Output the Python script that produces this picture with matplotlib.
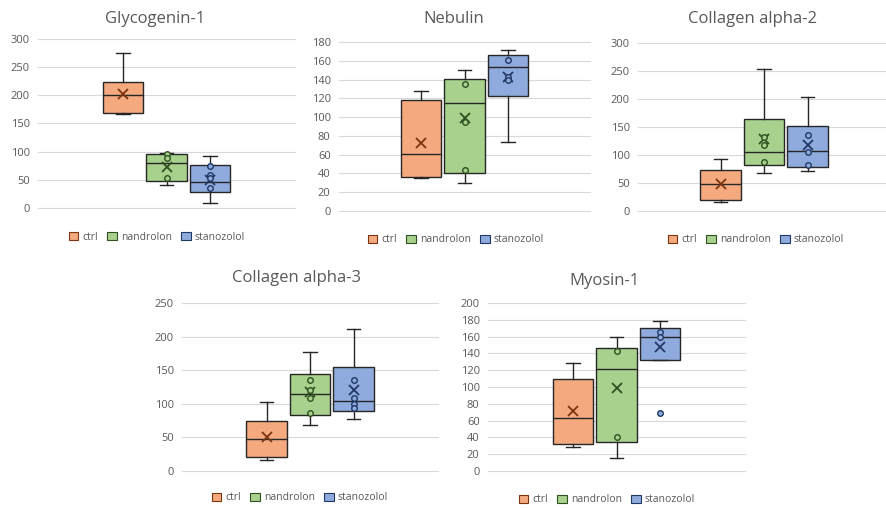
import matplotlib.pyplot as plt

plt.rcParams['font.family'] = ['Open Sans', 'DejaVu Sans']

groups = ["ctrl", "nandrolon", "stanozolol"]

# box statistics per group: whisker low, q1, median, q3, whisker high, mean
glyco_low = [167, 40, 9]
glyco_q1 = [168, 48, 28]
glyco_med = [200, 79, 47]
glyco_q3 = [223, 96, 77]
glyco_high = [275, 97, 92]
glyco_mean = [202, 73, 50]
glyco_pts = [[], [95, 88, 53], [74, 58, 54, 35]]

neb_low = [35, 30, 74]
neb_q1 = [36, 40, 123]
neb_med = [61, 115, 153]
neb_q3 = [118, 141, 166]
neb_high = [128, 150, 171]
neb_mean = [72, 99, 143]
neb_pts = [[], [135, 95, 44], [161, 143, 139]]

col2_low = [16, 68, 72]
col2_q1 = [20, 83, 79]
col2_med = [49, 105, 107]
col2_q3 = [73, 164, 151]
col2_high = [93, 253, 204]
col2_mean = [48, 128, 117]
col2_pts = [[], [133, 117, 88], [136, 106, 82]]

col3_low = [17, 68, 77]
col3_q1 = [21, 83, 90]
col3_med = [48, 114, 104]
col3_q3 = [74, 144, 155]
col3_high = [103, 177, 211]
col3_mean = [50, 117, 121]
col3_pts = [[], [135, 120, 108, 87], [136, 109, 100, 94]]

myo_low = [29, 15, 132]
myo_q1 = [32, 34, 132]
myo_med = [63, 122, 160]
myo_q3 = [110, 146, 170]
myo_high = [129, 160, 179]
myo_mean = [71, 99, 148]
myo_pts = [[], [143, 41], [166, 159, 69]]

fills = ["#F4A97F", "#A9D18E", "#8FAADC"]
darks = ["#7B3410", "#2F5020", "#1F3864"]
txt = "#595959"

W, H = 886, 508
fig = plt.figure(figsize=(W / 100, H / 100), dpi=100)

# (title, low, q1, med, q3, high, mean, pts, ymax, ystep, plot box px, title px, legend px)
panels = [
    ("Glycogenin-1", glyco_low, glyco_q1, glyco_med, glyco_q3, glyco_high, glyco_mean, glyco_pts,
     300, 50, (38, 39, 295, 208), (155, 19), (157, 237)),
    ("Nebulin", neb_low, neb_q1, neb_med, neb_q3, neb_high, neb_mean, neb_pts,
     180, 20, (339, 42, 590, 211), (454, 19), (456, 240)),
    ("Collagen alpha-2", col2_low, col2_q1, col2_med, col2_q3, col2_high, col2_mean, col2_pts,
     300, 50, (638, 43, 890, 211), (753, 19), (756, 240)),
    ("Collagen alpha-3", col3_low, col3_q1, col3_med, col3_q3, col3_high, col3_mean, col3_pts,
     250, 50, (182, 303, 438, 471), (297, 278), (300, 498)),
    ("Myosin-1", myo_low, myo_q1, myo_med, myo_q3, myo_high, myo_mean, myo_pts,
     200, 20, (488, 303, 745, 471), (604, 281), (607, 500)),
]

spacing = 43.5  # px between box centres

for (title, lo, q1, med, q3, hi, mean, pts, ymax, ystep, box, tpos, lpos) in panels:
    x0, y0, x1, y1 = box
    ax = fig.add_axes([x0 / W, 1 - y1 / H, (x1 - x0) / W, (y1 - y0) / H])
    stats = []
    for i in range(3):
        stats.append(dict(whislo=lo[i], q1=q1[i], med=med[i], q3=q3[i], whishi=hi[i],
                          mean=mean[i], fliers=[]))
    pos = [-1, 0, 1]
    bp = ax.bxp(stats, positions=pos, widths=0.92, capwidths=0.3, patch_artist=True,
                showmeans=True, showfliers=False,
                boxprops=dict(linewidth=1.0, edgecolor="#262626"),
                medianprops=dict(color="#262626", linewidth=1.0),
                whiskerprops=dict(color="#262626", linewidth=1.0),
                capprops=dict(color="#262626", linewidth=1.0),
                meanprops=dict(marker="x", markersize=7, markeredgewidth=1.3))
    for i in range(3):
        bp["boxes"][i].set_facecolor(fills[i])
        bp["means"][i].set_markeredgecolor(darks[i])
        if pts[i]:
            ax.plot([pos[i]] * len(pts[i]), pts[i], "o", ms=4, mfc=fills[i],
                    mec=darks[i], mew=1.0, zorder=5)
    half = (x1 - x0) / 2 / spacing
    ax.set_xlim(-half, half)
    ax.set_ylim(0, ymax)
    ax.set_yticks(range(0, ymax + 1, ystep))
    ax.set_xticks([])
    ax.tick_params(axis="y", length=0, labelsize=8, labelcolor=txt, pad=6)
    for s in ax.spines.values():
        s.set_visible(False)
    ax.grid(axis="y", color="#D9D9D9", linewidth=0.8, clip_on=False)
    ax.set_axisbelow(True)
    fig.text(tpos[0] / W, 1 - tpos[1] / H, title, ha="center", va="center",
             fontsize=12, color=txt)
    handles = [plt.Rectangle((0, 0), 1, 1, facecolor=fills[i], edgecolor=darks[i], linewidth=0.8)
               for i in range(3)]
    fig.legend(handles, groups, loc="center", bbox_to_anchor=(lpos[0] / W, 1 - lpos[1] / H),
               ncol=3, frameon=False, fontsize=7.5, labelcolor=txt, handlelength=0.9,
               handleheight=0.9, handletextpad=0.4, columnspacing=0.9, borderpad=0)

fig.savefig("out.png", dpi=100)
